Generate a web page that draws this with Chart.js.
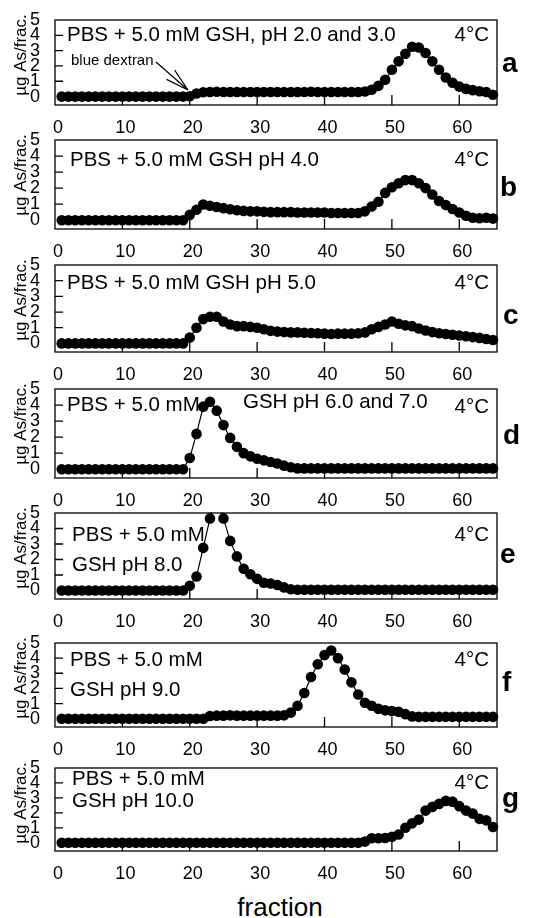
<!DOCTYPE html>
<html>
<head>
<meta charset="utf-8">
<script src="https://cdn.jsdelivr.net/npm/chart.js@4/dist/chart.umd.min.js"></script>
<style>
  body { margin: 0; background: #fff; width: 537px; height: 918px; position: relative; overflow: hidden; font-family: "Liberation Sans", Arial, sans-serif; }
  canvas { position: absolute; left: 0; }
  #xlabel { position: absolute; left: 220px; width: 120px; top: 894px; text-align: center; font-size: 26px; line-height: 26px; color: #000; }
</style>
</head>
<body>
<div id="xlabel">fraction</div>
<script>
// fraction numbers (x categories)
const FRACTIONS = [1,2,3,4,5,6,7,8,9,10,11,12,13,14,15,16,17,18,19,20,
  21,22,23,24,25,26,27,28,29,30,31,32,33,34,35,36,37,38,39,40,
  41,42,43,44,45,46,47,48,49,50,51,52,53,54,55,56,57,58,59,60,
  61,62,63,64,65];
const X_TICKS = [0, 10, 20, 30, 40, 50, 60];
const Y_TICKS = [0, 1, 2, 3, 4, 5];

// µg As per fraction, one array per pH condition
const PH_2_3 = [0,0,0,0,0,0,0,0,0,0, 0,0,0,0,0,0,0,0,0,0.02,
  0.2,0.28,0.3,0.32,0.3,0.3,0.3,0.3,0.3,0.3, 0.3,0.3,0.3,0.3,0.3,0.3,0.3,0.32,0.3,0.3,
  0.3,0.3,0.3,0.3,0.3,0.33,0.45,0.7,1.1,1.75, 2.3,2.8,3.25,3.2,2.85,2.3,1.75,1.25,0.9,0.65,
  0.5,0.42,0.35,0.3,0.12];
const PH_4 = [0,0,0,0,0,0,0,0,0,0, 0,0,0,0,0,0,0,0,0,0.33,
  0.65,0.98,0.9,0.82,0.75,0.68,0.62,0.58,0.55,0.55, 0.52,0.5,0.5,0.5,0.5,0.48,0.48,0.48,0.48,0.48,
  0.45,0.45,0.45,0.45,0.45,0.55,0.85,1.15,1.7,2.05, 2.3,2.5,2.5,2.3,2.0,1.6,1.2,0.95,0.7,0.48,
  0.28,0.15,0.12,0.15,0.1];
const PH_5 = [0,0,0,0,0,0,0,0,0,0, 0,0,0,0,0,0,0,0,0,0.37,
  1.0,1.55,1.7,1.7,1.4,1.2,1.1,1.1,1.05,1.0, 0.9,0.8,0.75,0.72,0.7,0.7,0.68,0.66,0.65,0.62,
  0.6,0.62,0.62,0.62,0.65,0.7,0.9,1.05,1.2,1.4, 1.25,1.15,1.1,0.95,0.82,0.72,0.65,0.6,0.55,0.5,
  0.45,0.4,0.35,0.28,0.22];
const PH_6_7 = [0,0,0,0,0,0,0,0,0,0, 0,0,0,0,0,0,0,0,0,0.7,
  2.2,3.9,4.2,3.65,2.75,1.95,1.4,1.0,0.8,0.65, 0.55,0.45,0.35,0.22,0.12,0.05,0.05,0.05,0.05,0.05,
  0.05,0.05,0.05,0.05,0.05,0.05,0.05,0.05,0.05,0.05, 0.05,0.05,0.05,0.05,0.05,0.05,0.05,0.05,0.05,0.05,
  0.05,0.05,0.05,0.05,0.05];
const PH_8 = [0,0,0,0,0,0,0,0,0,0, 0,0,0,0,0,0,0,0,0,0.3,
  0.9,2.75,4.65,6.5,4.65,3.2,2.2,1.4,1.05,0.75, 0.5,0.45,0.35,0.2,0.08,0.05,0.05,0.05,0.05,0.05,
  0.05,0.05,0.05,0.05,0.05,0.05,0.05,0.05,0.05,0.05, 0.05,0.05,0.05,0.05,0.05,0.05,0.05,0.05,0.05,0.05,
  0.05,0.05,0.05,0.05,0.05];
const PH_9 = [0,0,0,0,0,0,0,0,0,0, 0,0,0,0,0,0,0,0,0,0,
  0,0,0.18,0.2,0.2,0.22,0.2,0.2,0.2,0.2, 0.2,0.2,0.2,0.22,0.4,0.85,1.7,2.75,3.6,4.2,
  4.5,4.0,3.25,2.4,1.6,1.05,0.85,0.65,0.55,0.5, 0.45,0.3,0.15,0.12,0.12,0.12,0.12,0.12,0.12,0.12,
  0.12,0.12,0.12,0.12,0.12];
const PH_10 = [0,0,0,0,0,0,0,0,0,0, 0,0,0,0,0,0,0,0,0,0,
  0,0,0,0,0,0,0,0,0,0, 0,0,0,0,0,0,0,0,0,0,
  0,0,0,0,0,0.08,0.3,0.3,0.32,0.4, 0.55,1.0,1.3,1.55,2.15,2.4,2.6,2.8,2.75,2.45,
  2.15,1.95,1.6,1.5,1.05];

// page layout of each panel: plot box top/bottom and text placements (page px)
const PANELS = [
  { values: PH_2_3, top: 20, bottom: 104.5, letter: 'a', letterX: 502, letterY: 64, tempY: 35,
    lines: [{ text: 'PBS + 5.0 mM GSH, pH 2.0 and 3.0', x: 67, y: 35 }], dextran: true },
  { values: PH_4, top: 140, bottom: 228.5, letter: 'b', letterX: 500, letterY: 188, tempY: 160,
    lines: [{ text: 'PBS + 5.0 mM GSH pH 4.0', x: 70, y: 160 }] },
  { values: PH_5, top: 265, bottom: 352, letter: 'c', letterX: 503, letterY: 316, tempY: 283,
    lines: [{ text: 'PBS + 5.0 mM GSH pH 5.0', x: 67, y: 283 }] },
  { values: PH_6_7, top: 388.5, bottom: 477, letter: 'd', letterX: 503, letterY: 436, tempY: 407,
    lines: [{ text: 'PBS + 5.0 mM', x: 67, y: 405 }, { text: 'GSH pH 6.0 and 7.0', x: 243, y: 402 }] },
  { values: PH_8, top: 513, bottom: 599, letter: 'e', letterX: 500, letterY: 555, tempY: 535,
    lines: [{ text: 'PBS + 5.0 mM', x: 72, y: 535 }, { text: 'GSH pH 8.0', x: 72, y: 565 }] },
  { values: PH_9, top: 643, bottom: 726.5, letter: 'f', letterX: 502, letterY: 683, tempY: 660,
    lines: [{ text: 'PBS + 5.0 mM', x: 70, y: 660 }, { text: 'GSH pH 9.0', x: 70, y: 690 }] },
  { values: PH_10, top: 768, bottom: 851, letter: 'g', letterX: 502, letterY: 799, tempY: 783,
    lines: [{ text: 'PBS + 5.0 mM', x: 72, y: 779 }, { text: 'GSH pH 10.0', x: 72, y: 801 }] }
];

const PAD_TOP = 20;
const PAD_BOTTOM = 32;
const PLOT_LEFT = 55;
const PLOT_RIGHT = 497;
const FONT = '"Liberation Sans", Arial, sans-serif';

Chart.defaults.font.family = FONT;
Chart.defaults.color = '#000';

// box around the plot + inward ticks
const framePlugin = {
  id: 'frame',
  beforeDatasetsDraw(chart) {
    const { ctx, chartArea: a, scales: { x, y } } = chart;
    ctx.save();
    ctx.strokeStyle = '#000';
    ctx.lineWidth = 1.3;
    ctx.strokeRect(a.left, a.top, a.right - a.left, a.bottom - a.top);
    ctx.beginPath();
    [1, 2, 3, 4].forEach(v => {
      const py = y.getPixelForValue(v);
      ctx.moveTo(a.left, py);
      ctx.lineTo(a.left + 8, py);
    });
    [10, 20, 30, 40, 50, 60].forEach(v => {
      const px = x.getPixelForValue(v);
      ctx.moveTo(px, a.bottom);
      ctx.lineTo(px, a.bottom - 10);
    });
    ctx.stroke();
    ctx.restore();
  }
};

function textPlugin(p) {
  const off = p.top - PAD_TOP;
  return {
    id: 'labels',
    afterDraw(chart) {
      const { ctx, chartArea: a } = chart;
      ctx.save();
      ctx.fillStyle = '#000';
      ctx.textBaseline = 'middle';

      // y axis title
      ctx.save();
      ctx.font = '17px ' + FONT;
      ctx.translate(21, a.top + 35);
      ctx.rotate(-Math.PI / 2);
      ctx.textAlign = 'center';
      ctx.fillText('µg As/frac.', 0, 0);
      ctx.restore();

      ctx.font = '20.5px ' + FONT;
      ctx.textAlign = 'left';
      p.lines.forEach(l => ctx.fillText(l.text, l.x, l.y - off));
      ctx.textAlign = 'right';
      ctx.fillText('4°C', 489, p.tempY - off);

      ctx.font = 'bold 28px ' + FONT;
      ctx.textAlign = 'left';
      ctx.fillText(p.letter, p.letterX, p.letterY - off);

      if (p.dextran) {
        ctx.font = '15px ' + FONT;
        ctx.fillText('blue dextran', 71, 61 - off);
        // arrow
        const x0 = 156, y0 = 62 - off, x1 = 188, y1 = 90 - off;
        const ang = Math.atan2(y1 - y0, x1 - x0);
        ctx.strokeStyle = '#000';
        ctx.lineWidth = 1.2;
        ctx.beginPath();
        ctx.moveTo(x0, y0);
        ctx.lineTo(x1, y1);
        [-0.26, 0.26].forEach(d => {
          ctx.moveTo(x1, y1);
          ctx.lineTo(x1 - 24 * Math.cos(ang + d), y1 - 24 * Math.sin(ang + d));
        });
        ctx.stroke();
      }
      ctx.restore();
    }
  };
}

function makePanel(p) {
  const h = p.bottom - p.top;
  const canvas = document.createElement('canvas');
  canvas.width = 537;
  canvas.height = Math.round(h + PAD_TOP + PAD_BOTTOM);
  canvas.style.top = (p.top - PAD_TOP) + 'px';
  document.body.appendChild(canvas);

  new Chart(canvas, {
    type: 'line',
    data: {
      datasets: [{
        data: FRACTIONS.map((f, i) => ({ x: f, y: p.values[i] })),
        borderColor: '#000',
        borderWidth: 1.2,
        pointRadius: 5.3,
        pointBackgroundColor: '#000',
        pointBorderWidth: 0,
        tension: 0,
        clip: { left: 8, right: 8, top: 1, bottom: 8 }
      }]
    },
    options: {
      responsive: false,
      animation: false,
      layout: { padding: { top: PAD_TOP, right: 537 - PLOT_RIGHT, left: 0, bottom: 0 } },
      plugins: { legend: { display: false }, tooltip: { enabled: false } },
      scales: {
        x: {
          type: 'linear', min: 0, max: 65.6,
          afterBuildTicks: s => { s.ticks = X_TICKS.map(v => ({ value: v })); },
          afterFit: s => { s.height = PAD_BOTTOM; },
          grid: { display: false }, border: { display: false },
          ticks: { font: { size: 18 }, padding: 4, maxRotation: 0, autoSkip: false, labelOffset: 3 }
        },
        y: {
          min: -0.55, max: 5,
          afterBuildTicks: s => { s.ticks = Y_TICKS.map(v => ({ value: v })); },
          afterFit: s => { s.width = PLOT_LEFT; },
          grid: { display: false }, border: { display: false },
          ticks: { font: { size: 18 }, padding: 7, autoSkip: false }
        }
      }
    },
    plugins: [framePlugin, textPlugin(p)]
  });
}

PANELS.forEach(makePanel);
</script>
</body>
</html>
